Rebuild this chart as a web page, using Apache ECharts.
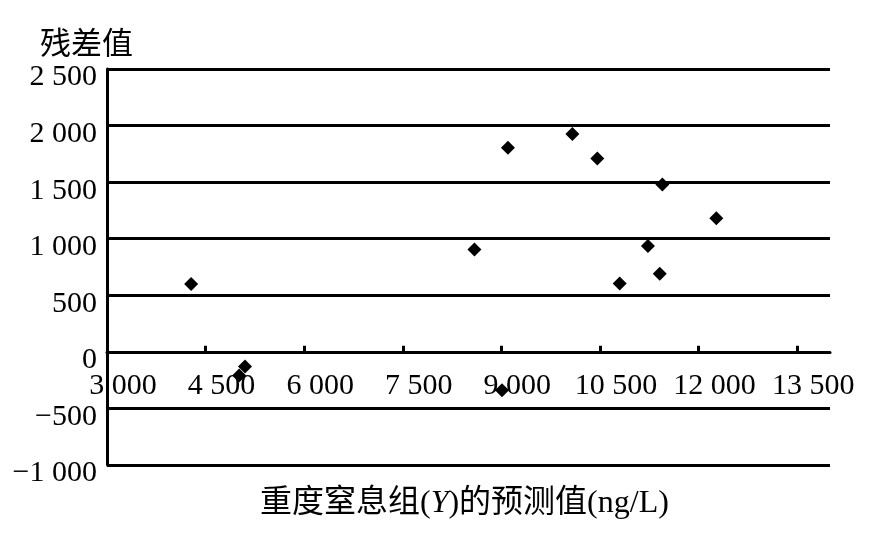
<!DOCTYPE html>
<html>
<head>
<meta charset="utf-8">
<script src="https://cdn.jsdelivr.net/npm/echarts@6/dist/echarts.min.js"></script>
<style>
html,body{margin:0;padding:0;background:#fff;}
#chart{width:874px;height:543px;}
</style>
</head>
<body>
<div id="chart"></div>
<script>
// Data
const predicted = [4280, 5100, 5010, 8590, 9100, 9010, 10080, 10460, 11450, 12270, 11230, 11410, 10800];
const residuals = [600, -130, -210, 905, 1805, -340, 1925, 1710, 1480, 1180, 935, 690, 605];
const xTicks = [3000, 4500, 6000, 7500, 9000, 10500, 12000, 13500];
const yTicks = [-1000, -500, 0, 500, 1000, 1500, 2000, 2500];
const yTitle = '残差值';
const xTitleA = '重度窒息组(';
const xTitleY = 'Y';
const xTitleB = ')的预测值(ng/L)';

const FONT = '"Liberation Serif", "Times New Roman", "Noto Sans CJK SC", serif';

const Y_MIN = -1000, Y_MAX = 2500;
const GRID_TOP = 69, GRID_BOTTOM = 78, H = 543;

function fmt(v) {
  const neg = v < 0;
  let s = String(Math.abs(v));
  if (s.length > 3) s = s.slice(0, s.length - 3) + ' ' + s.slice(s.length - 3);
  return (neg ? '\u2212' : '') + s;
}

const gridH = H - GRID_TOP - GRID_BOTTOM;
const zeroOffset = -gridH * (0 - Y_MIN) / (Y_MAX - Y_MIN);

const chart = echarts.init(document.getElementById('chart'), null, {renderer: 'canvas'});
chart.setOption({
  animation: false,
  backgroundColor: '#fff',
  title: [
    {
      text: yTitle, left: 35, top: 25,
      textStyle: {fontFamily: FONT, fontSize: 31, fontWeight: 'normal', color: '#000'}
    },
    {
      text: '{a|' + xTitleA + '}{i|' + xTitleY + '}{a|' + xTitleB + '}',
      left: 255, top: 483,
      textStyle: {
        fontFamily: FONT, fontSize: 32, fontWeight: 'normal', color: '#000',
        rich: {
          a: {fontFamily: FONT, fontSize: 32, color: '#000'},
          i: {fontFamily: FONT, fontSize: 32, fontStyle: 'italic', color: '#000'}
        }
      }
    }
  ],
  grid: {left: 107, right: 44, top: GRID_TOP, bottom: GRID_BOTTOM, containLabel: false},
  xAxis: {
    type: 'value', min: 3000, max: 14000, interval: 1500,
    position: 'bottom', offset: zeroOffset,
    axisLine: {show: true, onZero: false, lineStyle: {color: '#000', width: 3}},
    axisTick: {show: true, inside: true, length: 6, lineStyle: {color: '#000', width: 3}, customValues: xTicks.slice(1)},
    axisLabel: {
      customValues: xTicks,
      formatter: v => fmt(v),
      fontFamily: FONT, fontSize: 30, color: '#000',
      margin: 19, padding: [0, 0, 0, 32]
    },
    splitLine: {show: false}
  },
  yAxis: {
    type: 'value', min: Y_MIN, max: Y_MAX, interval: 500,
    axisLine: {show: true, onZero: false, lineStyle: {color: '#000', width: 3}},
    axisTick: {show: false},
    axisLabel: {
      formatter: v => fmt(v),
      fontFamily: FONT, fontSize: 30, color: '#000',
      margin: 10, verticalAlign: 'top', lineHeight: 17
    },
    splitLine: {show: true, lineStyle: {color: '#000', width: 3}}
  },
  series: [{
    type: 'scatter',
    symbol: 'diamond',
    symbolSize: 14,
    itemStyle: {color: '#000', opacity: 1},
    data: predicted.map((x, i) => [x, residuals[i]]),
    z: 10
  }]
});
</script>
</body>
</html>
